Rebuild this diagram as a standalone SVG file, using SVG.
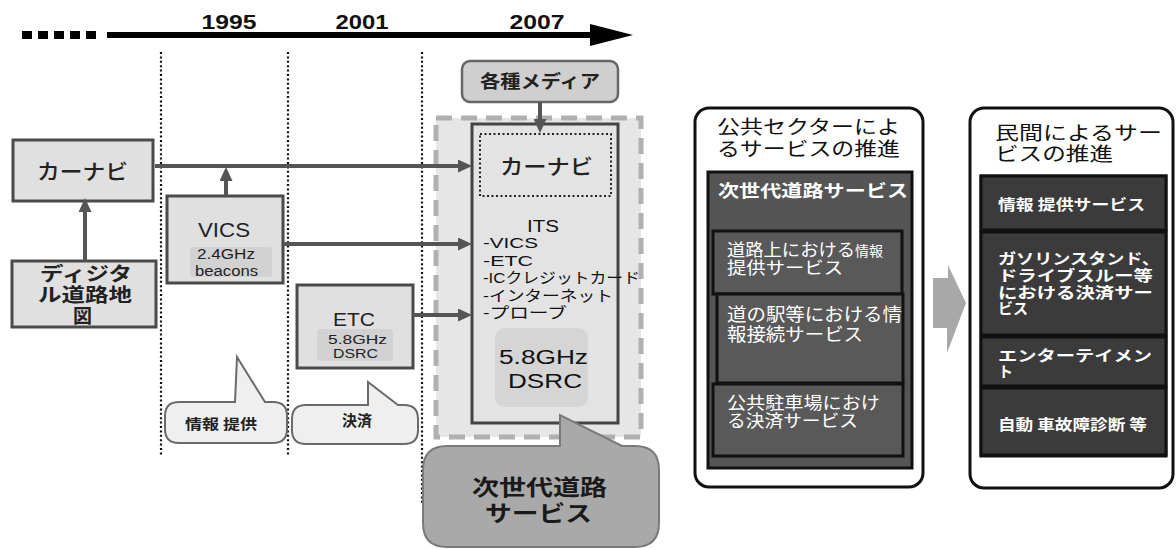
<svg xmlns="http://www.w3.org/2000/svg" width="1176" height="549" viewBox="0 0 1176 549">
<defs>
<style>
.jp{font-family:"Noto Sans CJK JP","Liberation Sans",sans-serif}
.lt{font-family:"Liberation Sans","Noto Sans CJK JP",sans-serif}
.box{fill:#e0e0e0;stroke:#4a4a4a;stroke-width:3}
.inner{fill:#d2d2d2}
.conn{fill:none;stroke:#555;stroke-width:4}
.dot{fill:none;stroke:#111;stroke-width:2.2;stroke-dasharray:2 2.4}
.bub{fill:#efefef;stroke:#6a6a6a;stroke-width:2}
.wt{fill:#fff;font-family:"Noto Sans CJK JP",sans-serif}
.sub1{fill:#595959;stroke:#111;stroke-width:3}
.sub2{fill:#3b3b3b;stroke:#111;stroke-width:3}
</style>
<marker id="ah" viewBox="0 0 14 13" refX="10" refY="6.5" markerWidth="14" markerHeight="13" markerUnits="userSpaceOnUse" orient="auto">
<path d="M0,0 L14,6.5 L0,13 Z" fill="#555"/>
</marker>
</defs>
<rect width="1176" height="549" fill="#fff"/>

<g id="timeline">
<g fill="#000">
<rect x="22" y="31" width="10" height="8"/>
<rect x="38" y="31" width="10" height="8"/>
<rect x="54" y="31" width="10" height="8"/>
<rect x="70" y="31" width="10" height="8"/>
<rect x="86" y="31" width="10" height="8"/>
</g>
<line x1="107" y1="35" x2="594" y2="35" stroke="#000" stroke-width="6"/>
<polygon points="590,24 633,35 590,46" fill="#000"/>
<g class="lt" font-weight="700" font-size="20" fill="#111" text-anchor="middle">
<text x="229" y="29" textLength="55" lengthAdjust="spacingAndGlyphs">1995</text>
<text x="362" y="29" textLength="53" lengthAdjust="spacingAndGlyphs">2001</text>
<text x="537" y="29" textLength="55" lengthAdjust="spacingAndGlyphs">2007</text>
</g>
<line class="dot" x1="161" y1="52" x2="161" y2="455"/>
<line class="dot" x1="288" y1="52" x2="288" y2="455"/>
<line class="dot" x1="422" y1="52" x2="422" y2="503"/>
</g>

<g id="its-area">
<rect x="436" y="118" width="205" height="319" fill="#e6e6e6" stroke="#b0b0b0" stroke-width="5" stroke-dasharray="16 9"/>
<rect x="472" y="124" width="146" height="299" fill="#e3e3e3" stroke="#444" stroke-width="3"/>
<rect x="480" y="134" width="131" height="62" fill="none" stroke="#222" stroke-width="2" stroke-dasharray="2 2.5"/>
<text class="jp" x="500" y="174" font-size="21" font-weight="500" fill="#222" textLength="93" lengthAdjust="spacingAndGlyphs">カーナビ</text>
<text class="lt" font-size="15" fill="#111"><tspan x="527" y="232" font-size="16" textLength="32" lengthAdjust="spacingAndGlyphs">ITS</tspan><tspan x="483" y="248" textLength="55" lengthAdjust="spacingAndGlyphs">-VICS</tspan><tspan x="483" y="266" textLength="50" lengthAdjust="spacingAndGlyphs">-ETC</tspan><tspan x="483" y="283" textLength="157" lengthAdjust="spacingAndGlyphs">-ICクレジットカード</tspan><tspan x="483" y="301" textLength="130" lengthAdjust="spacingAndGlyphs">-インターネット</tspan><tspan x="483" y="318" textLength="84" lengthAdjust="spacingAndGlyphs">-プローブ</tspan></text>
<rect x="495" y="328" width="93" height="79" rx="10" fill="#d5d5d5"/>
<text class="lt" font-size="20" fill="#111"><tspan x="499" y="364" textLength="89" lengthAdjust="spacingAndGlyphs">5.8GHz</tspan><tspan x="508" y="388" textLength="74" lengthAdjust="spacingAndGlyphs">DSRC</tspan></text>
</g>

<g id="media">
<rect x="462" y="61" width="156" height="41" rx="8" fill="#cfcfcf" stroke="#666" stroke-width="2.5"/>
<text class="jp" x="540" y="88" font-size="18" font-weight="700" fill="#222" text-anchor="middle" textLength="120" lengthAdjust="spacingAndGlyphs">各種メディア</text>
</g>

<g id="carnavi">
<rect class="box" x="13" y="140" width="140" height="61"/>
<text class="jp" x="37" y="179" font-size="21" font-weight="500" fill="#222" textLength="91" lengthAdjust="spacingAndGlyphs">カーナビ</text>
</g>

<g id="digital-map">
<rect class="box" x="12" y="261" width="144" height="66"/>
<text class="jp" font-size="19" font-weight="700" fill="#222"><tspan x="40" y="281" textLength="92" lengthAdjust="spacingAndGlyphs">ディジタ</tspan><tspan x="38" y="302" textLength="94" lengthAdjust="spacingAndGlyphs">ル道路地</tspan><tspan x="73" y="323">図</tspan></text>
</g>

<g id="vics">
<rect class="box" x="167" y="196" width="116" height="87"/>
<text class="lt" x="224" y="237" font-size="20" fill="#222" text-anchor="middle" textLength="52" lengthAdjust="spacingAndGlyphs">VICS</text>
<rect class="inner" x="190" y="247" width="82" height="30" rx="3"/>
<text class="lt" font-size="14" fill="#222"><tspan x="197" y="259" textLength="58" lengthAdjust="spacingAndGlyphs">2.4GHz</tspan><tspan x="195" y="276" textLength="63" lengthAdjust="spacingAndGlyphs">beacons</tspan></text>
</g>

<g id="etc">
<rect class="box" x="297" y="285" width="116" height="83"/>
<text class="lt" x="354" y="326" font-size="18" fill="#222" text-anchor="middle" textLength="42" lengthAdjust="spacingAndGlyphs">ETC</text>
<rect class="inner" x="317" y="329" width="76" height="32" rx="3"/>
<text class="lt" font-size="13" fill="#222"><tspan x="328" y="344" textLength="59" lengthAdjust="spacingAndGlyphs">5.8GHz</tspan><tspan x="333" y="358" textLength="45" lengthAdjust="spacingAndGlyphs">DSRC</tspan></text>
</g>

<g id="bubble-info">
<path class="bub" d="M179,402 L235,402 L237,357 L265,402 L273,402 Q287,402 287,416 L287,429 Q287,443 273,443 L179,443 Q165,443 165,429 L165,416 Q165,402 179,402 Z"/>
<text class="jp" x="221" y="429" font-size="14" font-weight="700" fill="#222" text-anchor="middle" textLength="72" lengthAdjust="spacingAndGlyphs">情報 提供</text>
</g>

<g id="bubble-payment">
<path class="bub" d="M306,405 L368,405 L368,382 L398,405 L404,405 Q418,405 418,419 L418,430 Q418,444 404,444 L306,444 Q292,444 292,430 L292,419 Q292,405 306,405 Z"/>
<text class="jp" x="357" y="426" font-size="15" font-weight="700" fill="#222" text-anchor="middle">決済</text>
</g>

<g id="bubble-next">
<path d="M447,446 L560,446 L560,415 L622,446 L635,446 Q659,446 659,470 L659,523 Q659,547 635,547 L447,547 Q423,547 423,523 L423,470 Q423,446 447,446 Z" fill="#a9a9a9" stroke="#7a7a7a" stroke-width="2"/>
<text class="jp" font-size="22" font-weight="700" fill="#1a1a1a"><tspan x="472" y="495" textLength="135" lengthAdjust="spacingAndGlyphs">次世代道路</tspan><tspan x="485" y="521" textLength="107" lengthAdjust="spacingAndGlyphs">サービス</tspan></text>
</g>

<g id="connectors">
<path class="conn" d="M155,166 H468" marker-end="url(#ah)"/>
<path class="conn" d="M226,196 V171" marker-end="url(#ah)"/>
<path class="conn" d="M85,261 V202" marker-end="url(#ah)"/>
<path class="conn" d="M283,244 H468" marker-end="url(#ah)"/>
<path class="conn" d="M413,315 H468" marker-end="url(#ah)"/>
<path class="conn" d="M540,102 V129" marker-end="url(#ah)"/>
</g>

<g id="public-panel">
<rect x="695" y="108" width="228" height="379" rx="14" fill="#fff" stroke="#111" stroke-width="3"/>
<text class="jp" font-size="19" fill="#111"><tspan x="717" y="134" textLength="183" lengthAdjust="spacingAndGlyphs">公共セクターによ</tspan><tspan x="717" y="156" textLength="183" lengthAdjust="spacingAndGlyphs">るサービスの推進</tspan></text>
<rect x="708" y="172" width="204" height="296" fill="#555" stroke="#111" stroke-width="3"/>
<text class="wt" x="718" y="197" font-size="17" font-weight="700" textLength="190" lengthAdjust="spacingAndGlyphs">次世代道路サービス</text>
<rect class="sub1" x="713" y="231" width="189" height="63"/>
<text class="wt" font-size="17"><tspan x="727" y="256" textLength="128" lengthAdjust="spacingAndGlyphs">道路上における</tspan><tspan font-size="14">情報</tspan><tspan x="727" y="274" textLength="116" lengthAdjust="spacingAndGlyphs">提供サービス</tspan></text>
<rect class="sub1" x="717" y="294" width="186" height="89"/>
<text class="wt" font-size="18"><tspan x="727" y="321" textLength="175" lengthAdjust="spacingAndGlyphs">道の駅等における情</tspan><tspan x="727" y="341" textLength="136" lengthAdjust="spacingAndGlyphs">報接続サービス</tspan></text>
<rect class="sub1" x="713" y="384" width="190" height="72"/>
<text class="wt" font-size="17"><tspan x="727" y="409" textLength="153" lengthAdjust="spacingAndGlyphs">公共駐車場におけ</tspan><tspan x="727" y="427" textLength="131" lengthAdjust="spacingAndGlyphs">る決済サービス</tspan></text>
</g>

<g id="shift-arrow">
<polygon points="933,278 948,278 948,265 966,303 947,353 947,328 933,328" fill="#a8a8a8"/>
</g>

<g id="private-panel">
<rect x="970" y="108" width="203" height="380" rx="14" fill="#fff" stroke="#111" stroke-width="3"/>
<text class="jp" font-size="19" fill="#111"><tspan x="995" y="140" textLength="167" lengthAdjust="spacingAndGlyphs">民間によるサー</tspan><tspan x="995" y="161" textLength="118" lengthAdjust="spacingAndGlyphs">ビスの推進</tspan></text>
<rect x="981" y="176" width="185" height="280" fill="#3a3a3a" stroke="#111" stroke-width="3"/>
<rect class="sub2" x="981" y="176" width="185" height="54"/>
<rect class="sub2" x="981" y="232" width="185" height="103"/>
<rect class="sub2" x="981" y="337" width="185" height="49"/>
<rect class="sub2" x="981" y="388" width="185" height="67"/>
<g class="wt" font-size="15" font-weight="700">
<text x="998" y="210" textLength="147" lengthAdjust="spacingAndGlyphs">情報 提供サービス</text>
<text><tspan x="998" y="264" textLength="162" lengthAdjust="spacingAndGlyphs">ガソリンスタンド、</tspan><tspan x="998" y="281" textLength="155" lengthAdjust="spacingAndGlyphs">ドライブスルー等</tspan><tspan x="998" y="298" textLength="155" lengthAdjust="spacingAndGlyphs">における決済サー</tspan><tspan x="998" y="314">ビス</tspan></text>
<text><tspan x="998" y="361" textLength="154" lengthAdjust="spacingAndGlyphs">エンターテイメン</tspan><tspan x="998" y="377">ト</tspan></text>
<text x="998" y="430" textLength="149" lengthAdjust="spacingAndGlyphs">自動 車故障診断 等</text>
</g>
</g>
</svg>
